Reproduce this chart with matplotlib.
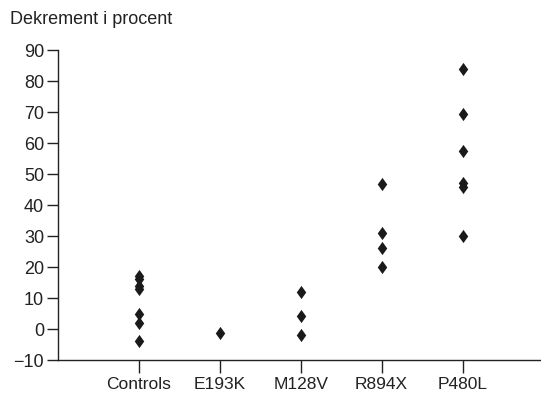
#!/usr/bin/env python3
"""Decrement per mutation group, dot plot."""

import matplotlib
matplotlib.use("Agg")
import matplotlib.pyplot as plt
from matplotlib.path import Path

groups = ["Controls", "E193K", "M128V", "R894X", "P480L"]
controls = [17, 16, 14, 13, 5, 2, -4]
e193k = [-1.2]
m128v = [11.8, 4.3, -1.8]
r894x = [46.9, 31, 26, 20]
p480l = [84, 69.2, 57.3, 47, 45.7, 30]
values = [controls, e193k, m128v, r894x, p480l]

y_ticks = list(range(-10, 91, 10))
y_tick_labels = ["\u221210" if t < 0 else str(t) for t in y_ticks]

plt.rcParams["font.family"] = ["Liberation Sans", "DejaVu Sans"]
text_color = "#222222"

diamond = Path([(0, 1), (0.72, 0), (0, -1), (-0.72, 0), (0, 1)],
               [Path.MOVETO, Path.LINETO, Path.LINETO, Path.LINETO, Path.CLOSEPOLY])

fig = plt.figure(figsize=(5.41, 3.96), dpi=100)
ax = fig.add_axes([0.1072, 0.0909, 0.8928, 0.7828])

for i, vals in enumerate(values):
    ax.plot([i] * len(vals), vals, linestyle="none", marker=diamond,
            markersize=9.5, color="#1a1a1a", markeredgewidth=0)

ax.set_xlim(-1, 4.97)
ax.set_ylim(-10, 90)
ax.set_xticks(range(len(groups)))
ax.set_xticklabels(groups)
ax.set_yticks(y_ticks)
ax.set_yticklabels(y_tick_labels)

for side in ("top", "right"):
    ax.spines[side].set_visible(False)
for side in ("left", "bottom"):
    ax.spines[side].set_color(text_color)
    ax.spines[side].set_linewidth(1.0)

ax.tick_params(axis="y", direction="out", length=8, width=1.0, colors=text_color,
               labelsize=13, pad=2)
ax.tick_params(axis="x", direction="out", length=9, width=1.0, colors=text_color,
               labelsize=12.5, pad=3)

fig.text(10 / 541, 1 - 20 / 396, "Dekrement i procent", ha="left", va="center",
         fontsize=13, color=text_color)

fig.savefig("out.png", dpi=100)
